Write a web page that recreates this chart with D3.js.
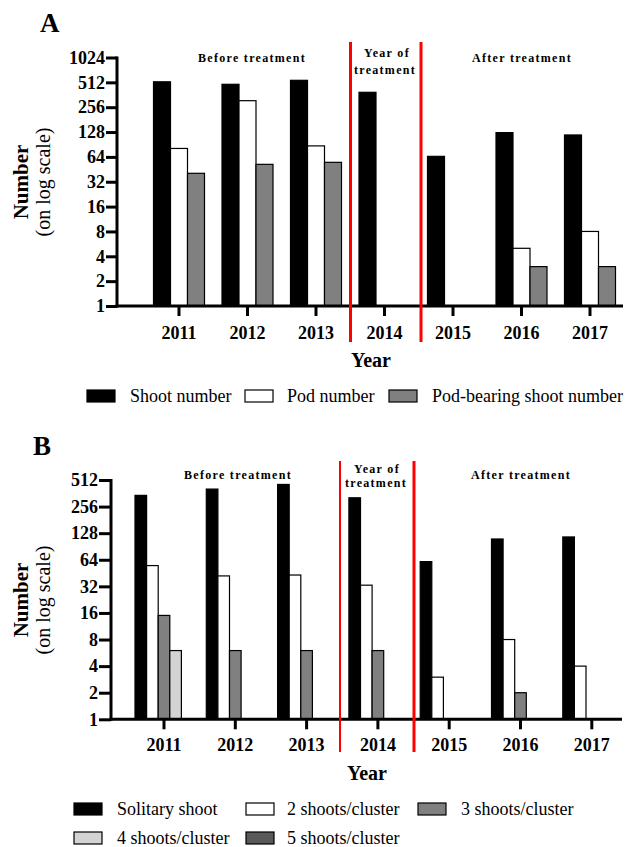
<!DOCTYPE html>
<html><head><meta charset="utf-8">
<script src="https://cdn.jsdelivr.net/npm/d3@7"></script>
<style>body{margin:0;background:#fff}svg{display:block}</style>
</head><body>
<svg id="c" width="630" height="847"></svg>
<script>
// ---------- DATA ----------
const years = ["2011","2012","2013","2014","2015","2016","2017"];
const ticksA = [1,2,4,8,16,32,64,128,256,512,1024];
const ticksB = [1,2,4,8,16,32,64,128,256,512];

const seriesA = ["Shoot number","Pod number","Pod-bearing shoot number"];
const shootNumber   = [520, 485, 542, 388, 65, 126, 118];
const podNumber     = [81, 307, 87, null, null, 5, 8];
const podBearing    = [40.5, 52, 55, null, null, 3, 3];

const seriesB = ["Solitary shoot","2 shoots/cluster","3 shoots/cluster","4 shoots/cluster","5 shoots/cluster"];
const solitary  = [343, 404, 456, 322, 61, 110, 116];
const shoots2   = [55, 42, 43, 33, 3, 8, 4];
const shoots3   = [15, 6, 6, 6, null, 2, null];
const shoots4   = [6, null, null, null, null, null, null];
const shoots5   = [null, null, null, null, null, null, null];

const periods = ["Before treatment", "Year of", "treatment", "After treatment"];

// ---------- DRAW ----------
const svg = d3.select("#c");
const serif = "'Liberation Serif','Times New Roman',serif";

function panel(o){
  const g = svg.append("g");
  const y = d3.scaleLog().base(2).domain([1, o.ticks[o.ticks.length-1]]).range([o.yBot, o.yTop]);
  const x = d3.scaleBand().domain(years).range([o.c0 - o.step/2, o.c0 + o.step*(years.length-0.5)]);
  const inner = d3.scaleBand().domain(o.series).range([0, o.groupW]);

  // bars
  o.series.forEach((s, si) => {
    const vals = o.values[si];
    g.selectAll(null).data(years.map((yr,i)=>({yr, v: vals[i]})).filter(d=>d.v))
      .join("rect")
      .attr("x", d => x(d.yr) + x.bandwidth()/2 - o.groupW/2 + inner(s))
      .attr("width", inner.bandwidth())
      .attr("y", d => y(d.v))
      .attr("height", d => y(1) - y(d.v))
      .attr("fill", o.colors[si])
      .attr("stroke", "#000").attr("stroke-width", 1.2);
  });

  // y axis
  const ya = d3.axisLeft(y).tickValues(o.ticks).tickFormat(d3.format("d")).tickSize(o.yTick).tickSizeOuter(0);
  const yg = g.append("g").attr("transform", `translate(${o.axX},0)`).call(ya);
  yg.select(".domain").attr("stroke-width", 3).attr("d", `M0,${o.yTop-1}V${o.yBot+1.5}`);
  yg.selectAll(".tick line").attr("stroke-width", 3);
  yg.selectAll(".tick text").attr("x", -o.yTick - 1).attr("font-family", serif).attr("font-size", 18)
    .attr("font-weight", "bold").attr("fill", "#000");

  // x axis
  const xa = d3.axisBottom(x).tickSize(10).tickSizeOuter(0);
  const xg = g.append("g").attr("transform", `translate(0,${o.yBot})`).call(xa);
  xg.select(".domain").attr("stroke-width", 3).attr("d", `M${o.axX-1.5},0H${o.axEnd}`);
  xg.selectAll(".tick line").attr("stroke-width", 3);
  xg.selectAll(".tick text").attr("y", o.xLabDy).attr("dy", 0).attr("font-family", serif)
    .attr("font-size", 18).attr("font-weight", "bold").attr("fill", "#000");

  // red lines
  o.redX.forEach((rx, i) => {
    g.append("line").attr("x1", rx).attr("x2", rx).attr("y1", o.redY[0]).attr("y2", o.redY[1])
      .attr("stroke", "#ff0000").attr("stroke-width", o.redW[i]);
  });

  // period labels
  const ann = (t, px, py) => g.append("text").attr("x", px).attr("y", py).attr("text-anchor", "middle")
    .attr("font-family", serif).attr("font-size", 12).attr("font-weight", "bold")
    .attr("letter-spacing", 1.3).text(t);
  ann(periods[0], o.ann[0][0], o.ann[0][1]);
  ann(periods[1], o.ann[1][0], o.ann[1][1]);
  ann(periods[2], o.ann[2][0], o.ann[2][1]);
  ann(periods[3], o.ann[3][0], o.ann[3][1]);

  // axis titles
  g.append("text").attr("x", o.yearX).attr("y", o.yearY).attr("text-anchor", "middle")
    .attr("font-family", serif).attr("font-size", 20).attr("font-weight", "bold").text("Year");
  const yt = g.append("g").attr("transform", `translate(0,${o.titleY}) rotate(-90)`);
  yt.append("text").attr("x", 0).attr("y", 28).attr("text-anchor", "middle")
    .attr("font-family", serif).attr("font-size", 21).attr("font-weight", "bold").text("Number");
  yt.append("text").attr("x", 0).attr("y", 50).attr("text-anchor", "middle")
    .attr("font-family", serif).attr("font-size", 20).text("(on log scale)");

  // panel letter
  g.append("text").attr("x", o.letter[0]).attr("y", o.letter[1]).attr("font-family", serif)
    .attr("font-size", 27).attr("font-weight", "bold").text(o.letterT);

  // legend
  o.legend.forEach((L, i) => {
    g.append("rect").attr("x", L[0]).attr("y", L[1]-6).attr("width", 28).attr("height", 12)
      .attr("fill", o.colors[i]).attr("stroke", "#000").attr("stroke-width", 1.2);
    g.append("text").attr("x", L[2]).attr("y", L[1]).attr("dy", "0.33em")
      .attr("font-family", serif).attr("font-size", 18).text(o.series[i]);
  });
}

panel({
  series: seriesA, values: [shootNumber, podNumber, podBearing],
  colors: ["#000000", "#ffffff", "#808080"],
  ticks: ticksA, yTop: 57.5, yBot: 306, axX: 117, axEnd: 623, yTick: 11,
  c0: 179, step: 68.5, groupW: 51, xLabDy: 33,
  redX: [350.5, 421], redY: [42, 342], redW: [3, 3],
  ann: [[252, 62], [387, 57], [385, 74], [522, 62]],
  yearX: 371, yearY: 367, titleY: 182,
  letter: [40, 32], letterT: "A",
  legend: [[87, 396, 130], [245, 396, 287], [389, 396, 432]]
});

panel({
  series: seriesB, values: [solitary, shoots2, shoots3, shoots4, shoots5],
  colors: ["#000000", "#ffffff", "#808080", "#d3d3d3", "#595959"],
  ticks: ticksB, yTop: 480, yBot: 719.3, axX: 111, axEnd: 622, yTick: 12,
  c0: 164, step: 71.3, groupW: 58, xLabDy: 32,
  redX: [340, 414], redY: [461, 752], redW: [2, 3],
  ann: [[238, 479], [377, 473], [376, 487], [521, 479]],
  yearX: 367, yearY: 780, titleY: 600,
  letter: [33, 455], letterT: "B",
  legend: [[74, 809, 117], [246, 809, 287], [418, 809, 461], [74, 838, 117], [246, 838, 287]]
});
</script>
</body></html>
